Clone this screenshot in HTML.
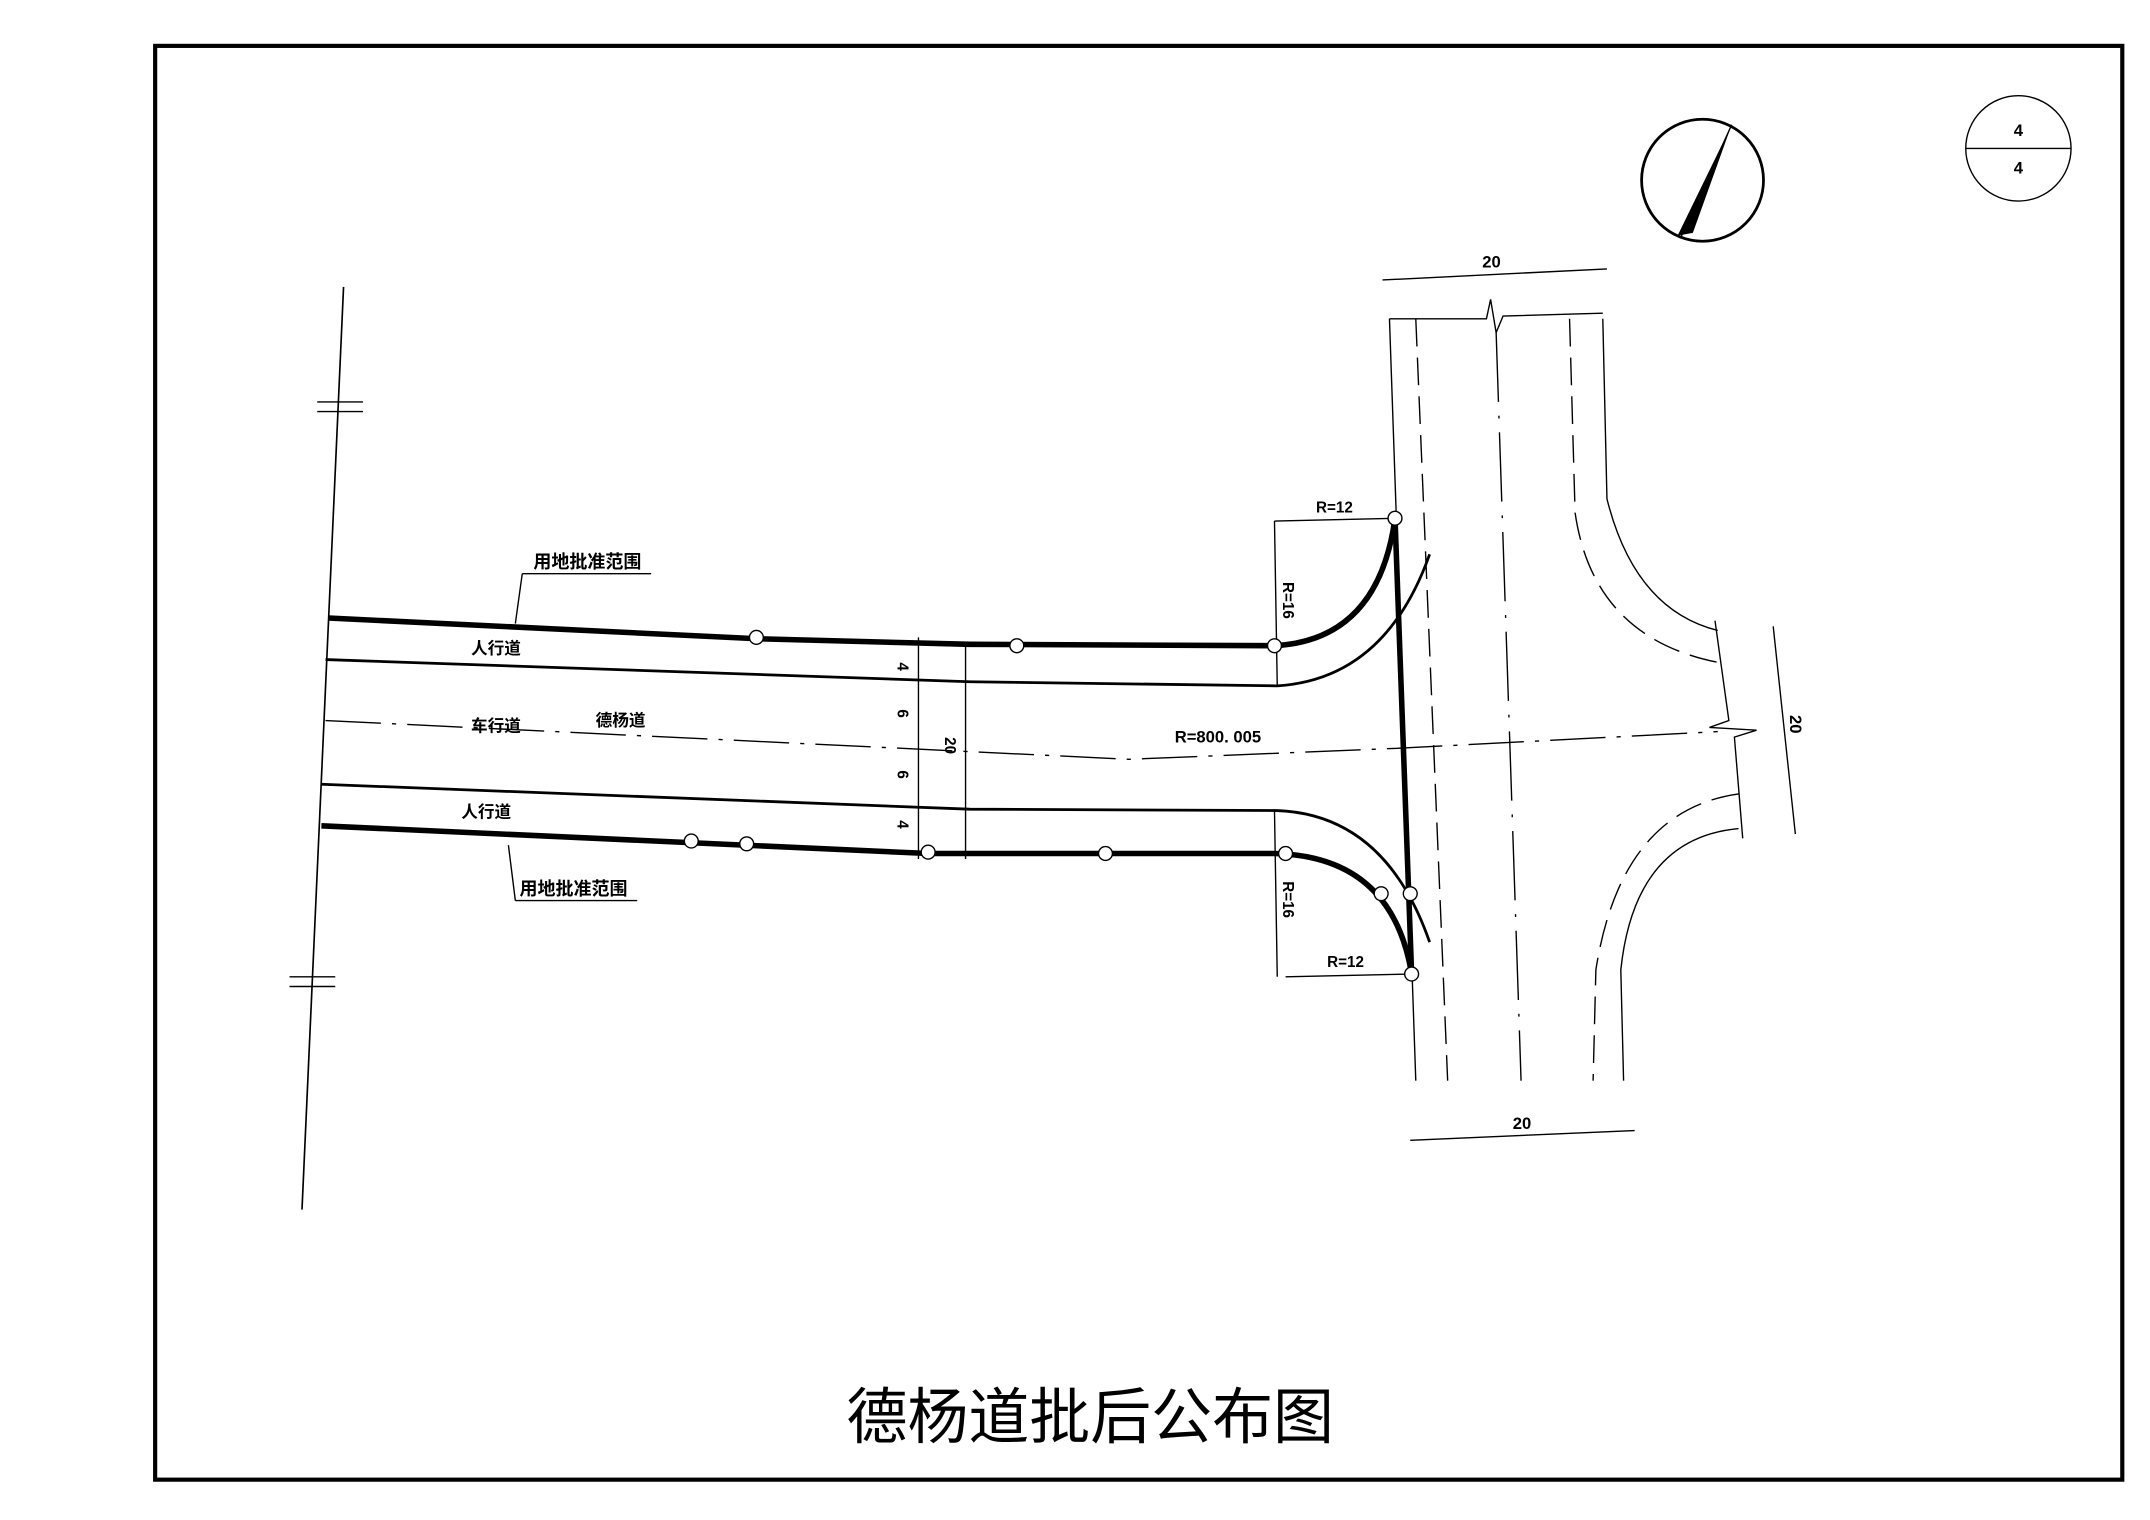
<!DOCTYPE html>
<html><head><meta charset="utf-8"><style>
html,body{margin:0;padding:0;background:#fff}
svg{display:block}
text{font-family:"Liberation Sans","Noto Sans CJK SC",sans-serif;font-weight:bold;fill:#000}
</style></head><body>
<svg width="2150" height="1520" viewBox="0 0 1552 1097" xmlns="http://www.w3.org/2000/svg">
<rect x="112" y="33" width="1420" height="1035" fill="none" stroke="#000" stroke-width="3"/>
<!-- north arrow -->
<circle cx="1229" cy="130" r="44" fill="none" stroke="#000" stroke-width="2"/>
<polygon points="1250,90 1222,168 1211,170" fill="#000"/>
<line x1="1250" y1="90" x2="1213" y2="172" stroke="#000" stroke-width="1"/>
<!-- sheet index -->
<circle cx="1457" cy="107" r="38" fill="none" stroke="#000" stroke-width="1"/>
<line x1="1419" y1="107" x2="1495" y2="107" stroke="#000"/>
<text x="1457" y="98" font-size="12" text-anchor="middle">4</text>
<text x="1457" y="125" font-size="12" text-anchor="middle">4</text>
<!-- left boundary line -->
<line x1="248" y1="207" x2="218" y2="873" stroke="#000" stroke-width="1.2"/>
<line x1="229" y1="290" x2="262" y2="290" stroke="#000"/><line x1="229" y1="297" x2="262" y2="297" stroke="#000"/>
<line x1="209" y1="705" x2="242" y2="705" stroke="#000"/><line x1="209" y1="712" x2="242" y2="712" stroke="#000"/>
<g fill="none" stroke="#000">
<!-- top thick boundary -->
<path d="M237,446 L547,461 L700,465 L920,466 Q995,462 1007,374" stroke-width="4"/>
<!-- inner top -->
<path d="M235,476 L700,492 L922,495 Q1000,490 1032,400" stroke-width="2"/>
<!-- centerline -->
<path d="M235,520 L815,548 L1010,540 L1240,528" stroke-width="1" stroke-dasharray="40,8,3,8"/>
<!-- lower inner -->
<path d="M232,566 L700,584 L922,585 Q1000,588 1032,680" stroke-width="2"/>
<!-- bottom thick -->
<path d="M232,596 L670,616 L920,616 Q1005,618 1019,703" stroke-width="4"/>
<!-- thick closing line -->
<line x1="1007" y1="374" x2="1019" y2="703" stroke-width="4"/>
<!-- vertical road -->
<line x1="1003" y1="230" x2="1022" y2="780" stroke-width="1"/>
<line x1="1022" y1="230" x2="1045" y2="780" stroke-width="1" stroke-dasharray="20,8"/>
<line x1="1080" y1="240" x2="1098" y2="780" stroke-width="1" stroke-dasharray="50,10,2,10"/>
<path d="M1133,230 L1137,370 Q1150,460 1240,478" stroke-width="1" stroke-dasharray="20,8"/>
<path d="M1157,230 L1160,360 Q1180,440 1240,455" stroke-width="1"/>
<path d="M1255,573 Q1170,585 1152,700 L1150,780" stroke-width="1" stroke-dasharray="20,8"/>
<path d="M1255,598 Q1180,605 1170,700 L1172,780" stroke-width="1"/>
<!-- breaks -->
<path d="M1238,448 L1248,520 L1234,525 L1268,527 L1252,532 L1258,605" stroke-width="1"/>
<path d="M1003,230 L1073,230 L1076,216 L1080,240 L1085,228 L1157,226" stroke-width="1"/>
<!-- dimensions -->
<line x1="998" y1="202" x2="1160" y2="194" stroke-width="1"/>
<line x1="1018" y1="823" x2="1180" y2="816" stroke-width="1"/>
<line x1="1280" y1="452" x2="1296" y2="602" stroke-width="1"/>
<line x1="663" y1="460" x2="663" y2="620" stroke-width="1"/>
<line x1="697" y1="465" x2="697" y2="620" stroke-width="1"/>
<line x1="920" y1="376" x2="1007" y2="374" stroke-width="1"/>
<line x1="920" y1="376" x2="922" y2="495" stroke-width="1"/>
<line x1="928" y1="705" x2="1019" y2="703" stroke-width="1"/>
<line x1="920" y1="585" x2="922" y2="705" stroke-width="1"/>
<!-- circles -->
<g stroke-width="1" fill="#fff">
<circle cx="546" cy="460" r="5"/><circle cx="734" cy="466" r="5"/><circle cx="920" cy="466" r="5"/>
<circle cx="1007" cy="374" r="5"/><circle cx="499" cy="607" r="5"/><circle cx="539" cy="609" r="5"/>
<circle cx="670" cy="615" r="5"/><circle cx="798" cy="616" r="5"/><circle cx="928" cy="616" r="5"/>
<circle cx="997" cy="645" r="5"/><circle cx="1018" cy="645" r="5"/><circle cx="1019" cy="703" r="5"/>
</g>
<!-- leaders -->
<line x1="377" y1="414" x2="372" y2="450" stroke-width="1"/>
<line x1="377" y1="414" x2="470" y2="414" stroke-width="1"/>
<line x1="372" y1="650" x2="460" y2="650" stroke-width="1"/>
<line x1="372" y1="650" x2="367" y2="610" stroke-width="1"/>
</g>
<g font-size="13">
<text x="385" y="410">用地批准范围</text>
<text x="375" y="646">用地批准范围</text>
<text x="340" y="472" font-size="12">人行道</text>
<text x="333" y="590" font-size="12">人行道</text>
<text x="340" y="528" font-size="12">车行道</text>
<text x="430" y="524" font-size="12">德杨道</text>
<text x="848" y="536" font-size="12">R=800. 005</text>
<text x="950" y="370" font-size="11">R=12</text>
<text x="958" y="698" font-size="11">R=12</text>
<text x="1070" y="193" font-size="12">20</text>
<text x="1092" y="815" font-size="12">20</text>
</g>
<g font-size="11">
<text transform="translate(926,420) rotate(90)">R=16</text>
<text transform="translate(926,636) rotate(90)">R=16</text>
<text transform="translate(1292,516) rotate(90)" font-size="12">20</text>
<text transform="translate(648,478) rotate(90)">4</text>
<text transform="translate(648,512) rotate(90)">6</text>
<text transform="translate(648,556) rotate(90)">6</text>
<text transform="translate(648,592) rotate(90)">4</text>
<text transform="translate(682,532) rotate(90)">20</text>
</g>
<text x="787" y="1038" font-size="44" font-weight="normal" text-anchor="middle" style="font-weight:normal">德杨道批后公布图</text>
</svg>
</body></html>
